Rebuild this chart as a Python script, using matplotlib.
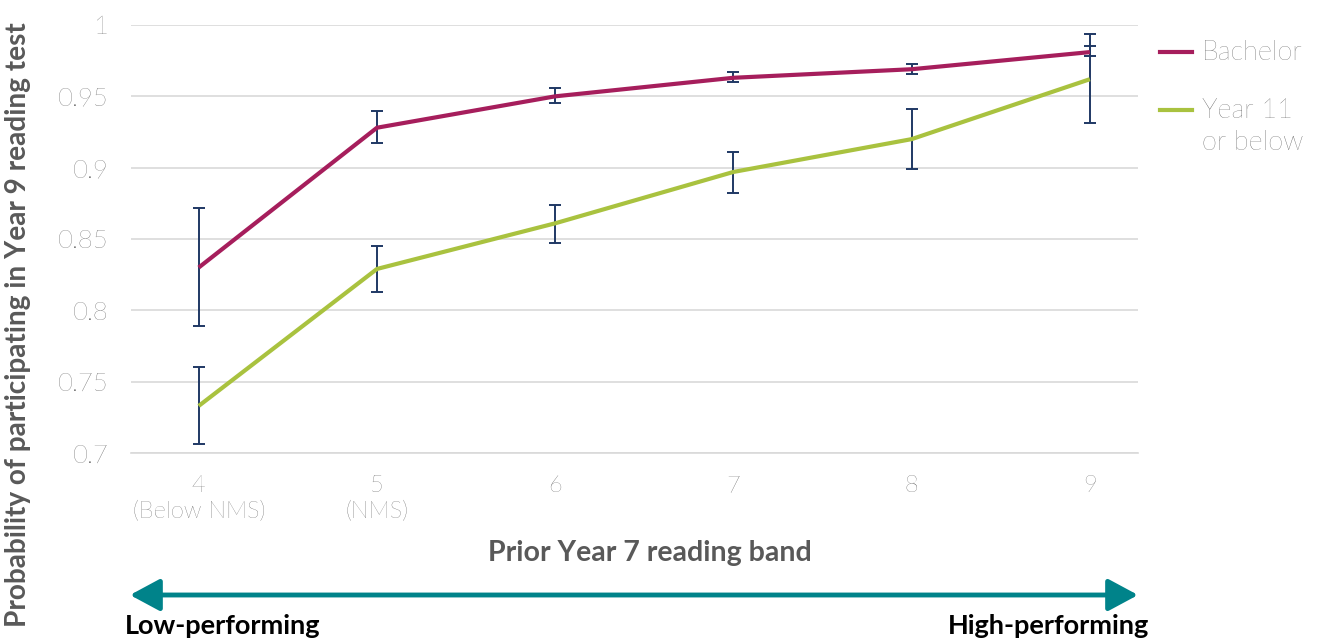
import matplotlib
matplotlib.use('Agg')
from matplotlib import pyplot as plt
from matplotlib.lines import Line2D
from matplotlib.patches import FancyArrowPatch

# ******** DATA
bands = [4, 5, 6, 7, 8, 9]
band_labels = ['4\n(Below NMS)', '5\n(NMS)', '6', '7', '8', '9']

bachelor = [0.830, 0.928, 0.950, 0.963, 0.969, 0.981]
bachelor_lo = [0.789, 0.917, 0.945, 0.960, 0.966, 0.978]
bachelor_hi = [0.872, 0.940, 0.956, 0.967, 0.973, 0.985]

year11 = [0.733, 0.829, 0.861, 0.897, 0.920, 0.962]
year11_lo = [0.706, 0.813, 0.847, 0.882, 0.899, 0.931]
year11_hi = [0.760, 0.845, 0.874, 0.911, 0.941, 0.994]

y_ticks = [0.7, 0.75, 0.8, 0.85, 0.9, 0.95, 1.0]
y_tick_labels = ['0.7', '0.75', '0.8', '0.85', '0.9', '0.95', '1']
# ******** DATA

plt.rcParams['font.family'] = ['Lato', 'DejaVu Sans']

grey = '#595959'
light_grey = '#444444'   # light-weight text needs a darker tone
crimson = '#A61E5C'
olive = '#A9C23F'
navy = '#1F3864'
teal = '#00838A'

fig = plt.figure(figsize=(13.19, 6.39), dpi=100)
ax = fig.add_axes([131 / 1319, 1 - 453 / 639, (1138 - 131) / 1319, 428 / 639])


def err(vals, lo, hi):
    return [[v - l for v, l in zip(vals, lo)], [h - v for v, h in zip(vals, hi)]]


for vals, lo, hi in [(bachelor, bachelor_lo, bachelor_hi),
                     (year11, year11_lo, year11_hi)]:
    ax.errorbar(bands, vals, yerr=err(vals, lo, hi), fmt='none', ecolor=navy,
                elinewidth=1.4, capsize=4, capthick=1.4, zorder=2)

ax.plot(bands, bachelor, color=crimson, lw=3, zorder=3, solid_capstyle='butt')
ax.plot(bands, year11, color=olive, lw=3, zorder=3, solid_capstyle='butt')

ax.set_xlim(3.62, 9.27)
ax.set_ylim(0.7, 1.0)
ax.set_yticks(y_ticks)
ax.set_yticklabels(y_tick_labels)
ax.set_xticks(bands)
ax.set_xticklabels(band_labels, linespacing=1.3)
ax.grid(axis='y', color='#D9D9D9', lw=1.2)
ax.set_axisbelow(True)
for s in ax.spines.values():
    s.set_visible(False)
ax.spines['bottom'].set_visible(True)
ax.spines['bottom'].set_color('#D9D9D9')
ax.spines['bottom'].set_linewidth(1.2)
ax.tick_params(axis='y', length=0, pad=16, labelsize=18.5, labelcolor=light_grey)
ax.tick_params(axis='x', length=0, pad=16, labelsize=17, labelcolor=light_grey)
for t in ax.get_xticklabels() + ax.get_yticklabels():
    t.set_fontweight('light')
for t in ax.get_xticklabels():
    t.set_verticalalignment('top')

# legend drawn by hand so the handle sits on the first label line
fig.add_artist(Line2D([1160 / 1319, 1192 / 1319], [1 - 52 / 639] * 2,
                      color=crimson, lw=3, transform=fig.transFigure))
fig.add_artist(Line2D([1160 / 1319, 1192 / 1319], [1 - 110 / 639] * 2,
                      color=olive, lw=3, transform=fig.transFigure))
for txt, y in [('Bachelor', 52), ('Year 11', 110), ('or below', 142)]:
    fig.text(1202 / 1319, 1 - y / 639, txt, fontsize=19.5, color=light_grey,
             fontweight='light', va='center', ha='left')

fig.text(18 / 1319, 1 - 325 / 639,
         'Probability of participating in Year 9 reading test',
         rotation=90, fontsize=20.2, fontweight='bold', color=grey,
         ha='center', va='center')
fig.text(650 / 1319, 1 - 553 / 639, 'Prior Year 7 reading band',
         fontsize=20.5, fontweight='bold', color=grey, ha='center', va='center')

arrow = FancyArrowPatch((130 / 1319, 1 - 595 / 639), (1138 / 1319, 1 - 595 / 639),
                        transform=fig.transFigure, color=teal, lw=3.5,
                        arrowstyle='<|-|>,head_length=1.3,head_width=0.7',
                        mutation_scale=14, shrinkA=0, shrinkB=0)
fig.add_artist(arrow)
fig.text(125 / 1319, 1 - 626 / 639, 'Low-performing', fontsize=19.5,
         fontweight='bold', color='black', ha='left', va='center')
fig.text(1149 / 1319, 1 - 626 / 639, 'High-performing', fontsize=19.5,
         fontweight='bold', color='black', ha='right', va='center')

fig.savefig('out.png', dpi=100)
